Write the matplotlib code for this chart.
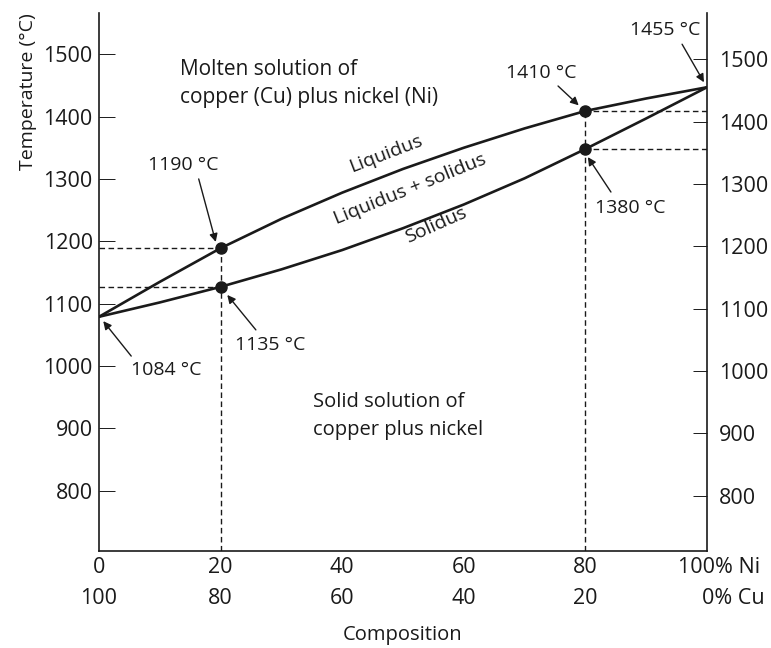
import matplotlib.pyplot as plt

plt.rcParams['font.family'] = ['Open Sans', 'DejaVu Sans']

# composition (% Ni) and temperatures (°C)
ni_pct = [0, 10, 20, 30, 40, 50, 60, 70, 80, 90, 100]
liquidus = [1079, 1135, 1189, 1236, 1278, 1316, 1350, 1381, 1409, 1429, 1447]
solidus = [1079, 1102, 1127, 1155, 1186, 1221, 1259, 1301, 1348, 1397, 1447]

marked_x = [20, 20, 80, 80]
marked_t = [1189, 1127, 1409, 1348]

ni_ticks = [0, 20, 40, 60, 80]
cu_ticks = ['100', '80', '60', '40', '20']
temp_ticks = [800, 900, 1000, 1100, 1200, 1300, 1400, 1500]

# label text, text position, arrow start, arrow tip (data coords)
callouts = [
    ('1190 °C', (13.8, 1322), (16.4, 1300), (19.2, 1199)),
    ('1135 °C', (28.1, 1034), (25.8, 1058), (21.1, 1114)),
    ('1084 °C', (11.0, 994), (5.3, 1016), (0.7, 1072)),
    ('1410 °C', (72.7, 1470), (75.5, 1449), (78.9, 1418)),
    ('1380 °C', (87.3, 1253), (84.2, 1279), (80.4, 1335)),
    ('1455 °C', (93.2, 1538), (95.9, 1516), (99.5, 1455)),
]

ink = '#1a1a1a'
ymin, ymax = 703.5, 1566

fig = plt.figure(figsize=(7.71, 6.48), dpi=100)
ax = fig.add_axes([0.1284, 0.1497, 0.917 - 0.1284, 0.9799 - 0.1497])
ax.set_xlim(0, 100)
ax.set_ylim(ymin, ymax)

ax.plot(ni_pct, liquidus, color=ink, lw=1.9, solid_joinstyle='round')
ax.plot(ni_pct, solidus, color=ink, lw=1.9, solid_joinstyle='round')

dash = (0, (4, 2.5))
# guide lines from the marked points
for x, t in zip(marked_x, marked_t):
    edge = 0 if x < 50 else 100
    ax.plot([edge, x], [t, t], color=ink, lw=1.0, linestyle=dash)
for x in (20, 80):
    top = max(t for xx, t in zip(marked_x, marked_t) if xx == x)
    ax.plot([x, x], [ymin, top], color=ink, lw=1.0, linestyle=dash)
ax.plot(marked_x, marked_t, 'o', color=ink, ms=8, zorder=5)

for label, txt, start, tip in callouts:
    ax.annotate('', xy=tip, xytext=start,
                arrowprops=dict(arrowstyle='-|>', color=ink, lw=1.0,
                                mutation_scale=12, shrinkA=0, shrinkB=0))
    ax.text(txt[0], txt[1], label, ha='center', va='center', fontsize=14, color=ink)

ax.text(13.3, 1453, 'Molten solution of\ncopper (Cu) plus nickel (Ni)',
        ha='left', va='center', fontsize=15, linespacing=1.45, color=ink)
ax.text(35.2, 920, 'Solid solution of\ncopper plus nickel',
        ha='left', va='center', fontsize=14.5, linespacing=1.5, color=ink)
ax.text(47.2, 1341, 'Liquidus', rotation=21, ha='center', va='center',
        fontsize=14, color=ink, rotation_mode='anchor')
ax.text(51.2, 1284, 'Liquidus + solidus', rotation=22, ha='center', va='center',
        fontsize=14, color=ink, rotation_mode='anchor')
ax.text(55.4, 1226, 'Solidus', rotation=24, ha='center', va='center',
        fontsize=14, color=ink, rotation_mode='anchor')

# left temperature axis
ax.set_yticks(temp_ticks)
ax.tick_params(axis='y', direction='in', length=11.5, width=0.7, pad=4.5,
               labelsize=15.5, colors=ink)
ax.set_xticks([])
ax.spines['top'].set_visible(False)
ax.spines['right'].set_visible(False)
for s in ('left', 'bottom'):
    ax.spines[s].set_linewidth(1.2)
    ax.spines[s].set_color(ink)

# right temperature axis (slightly offset in the original drawing)
ax2 = ax.twinx()
ax2.set_ylim(ymin + 8, ymax + 8)
ax2.set_yticks(temp_ticks)
ax2.tick_params(axis='y', direction='in', length=10, width=0.7, pad=8.5,
                labelsize=15.5, colors=ink)
for s in ('top', 'left', 'bottom'):
    ax2.spines[s].set_visible(False)
ax2.spines['right'].set_linewidth(1.2)
ax2.spines['right'].set_color(ink)

# composition labels: % Ni on first row, % Cu on second row
for x, cu in zip(ni_ticks, cu_ticks):
    ax.annotate(str(x), xy=(x, 0), xycoords=('data', 'axes fraction'),
                xytext=(0, -12), textcoords='offset points',
                ha='center', va='center', fontsize=15.5, color=ink)
    ax.annotate(cu, xy=(x, 0), xycoords=('data', 'axes fraction'),
                xytext=(0, -34), textcoords='offset points',
                ha='center', va='center', fontsize=15.5, color=ink)
ax.annotate('100% Ni', xy=(100, 0), xycoords=('data', 'axes fraction'),
            xytext=(-21, -12), textcoords='offset points',
            ha='left', va='center', fontsize=15.5, color=ink)
ax.annotate('0% Cu', xy=(100, 0), xycoords=('data', 'axes fraction'),
            xytext=(-3.6, -34), textcoords='offset points',
            ha='left', va='center', fontsize=15.5, color=ink)

fig.text(28 / 771, 1 - 92 / 648, 'Temperature (°C)', rotation=90,
         ha='center', va='center', fontsize=14, color=ink)
fig.text(403 / 771, 1 - 635 / 648, 'Composition', ha='center', va='center',
         fontsize=14.5, color=ink)

fig.savefig('out.png', dpi=100)
